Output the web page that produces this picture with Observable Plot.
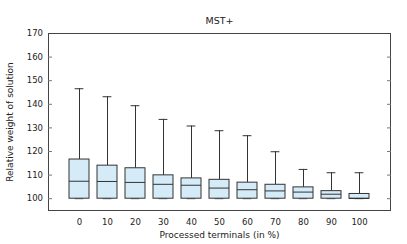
<!DOCTYPE html>
<html><head><meta charset="utf-8">
<script src="https://cdn.jsdelivr.net/npm/d3@7"></script>
<script src="https://cdn.jsdelivr.net/npm/@observablehq/plot@0.6"></script>
<style>
body{margin:0;background:#fff;}
#chart svg{display:block;}
</style>
</head><body><div id="chart"></div>
<script>
const categories = [0, 10, 20, 30, 40, 50, 60, 70, 80, 90, 100];
const whiskerLow = [100, 100, 100, 100, 100, 100, 100, 100, 100, 100, 100];
const q1 = [100, 100, 100, 100, 100, 100, 100, 100, 100, 100, 100];
const median = [107.4, 107.3, 106.9, 106.1, 105.7, 104.5, 103.8, 103.3, 102.8, 101.9, 100.1];
const q3 = [116.6, 114.0, 112.9, 109.9, 108.6, 108.0, 106.8, 105.9, 104.8, 103.2, 102.0];
const whiskerHigh = [146.6, 143.2, 139.4, 133.6, 130.8, 128.8, 126.7, 119.9, 112.4, 111.0, 111.0];
const yTicks = [100, 110, 120, 130, 140, 150, 160, 170];
const title = "MST+";
const xLabel = "Processed terminals (in %)";
const yLabel = "Relative weight of solution";

const data = categories.map((c, i) => ({
  cat: String(c), lo: whiskerLow[i], q1: q1[i], med: median[i], q3: q3[i], hi: whiskerHigh[i]
}));

const ink = "#333";
const font = "DejaVu Sans, sans-serif";

const chart = Plot.plot({
  width: 407,
  height: 244,
  marginLeft: 48,
  marginRight: 17,
  marginTop: 33,
  marginBottom: 34,
  style: {fontFamily: font, fontSize: "8.5px", color: "#222", background: "#fff"},
  x: {type: "band", domain: categories.map(String), paddingInner: 0.27, paddingOuter: 0.66, label: null},
  y: {domain: [95, 170], label: null},
  marks: [
    // whiskers
    Plot.ruleX(data, {x: "cat", y1: "q3", y2: "hi", stroke: ink, strokeWidth: 1}),
    Plot.tickY(data, {x: "cat", y: "hi", stroke: ink, strokeWidth: 1, insetLeft: 5.6, insetRight: 5.6}),
    Plot.tickY(data, {x: "cat", y: "lo", stroke: "#666", strokeWidth: 1, insetLeft: 5.6, insetRight: 5.6}),
    // boxes
    Plot.barY(data, {x: "cat", y1: "q1", y2: "q3", fill: "#d5ebf8", stroke: ink, strokeWidth: 1}),
    Plot.tickY(data, {x: "cat", y: "med", stroke: ink, strokeWidth: 1}),
    // frame
    Plot.frame({stroke: "#444", strokeWidth: 1}),
    // y labels and inward ticks on both sides
    Plot.axisY({anchor: "left", ticks: yTicks, tickSize: 0, tickPadding: 5.5, label: null, fill: "#222"}),
    Plot.axisY({anchor: "left", ticks: yTicks.slice(0, -1), tickSize: -4, tickFormat: () => "", label: null, stroke: "#777"}),
    Plot.axisY({anchor: "right", ticks: yTicks.slice(0, -1), tickSize: -4, tickFormat: () => "", label: null, stroke: "#777"}),
    Plot.axisX({anchor: "bottom", tickSize: 0, tickPadding: 8, label: null, fill: "#222"}),
    // title and axis labels
    Plot.text([title], {frameAnchor: "top", dy: -16, fontSize: 9.5, fill: "#222"}),
    Plot.text([xLabel], {frameAnchor: "bottom", dy: 27.5, fontSize: 9, fill: "#222"}),
    Plot.text([yLabel], {frameAnchor: "left", textAnchor: "middle", dx: -38, rotate: -90, fontSize: 9, fill: "#222"})
  ]
});
document.getElementById("chart").appendChild(chart);
</script>
</body></html>
